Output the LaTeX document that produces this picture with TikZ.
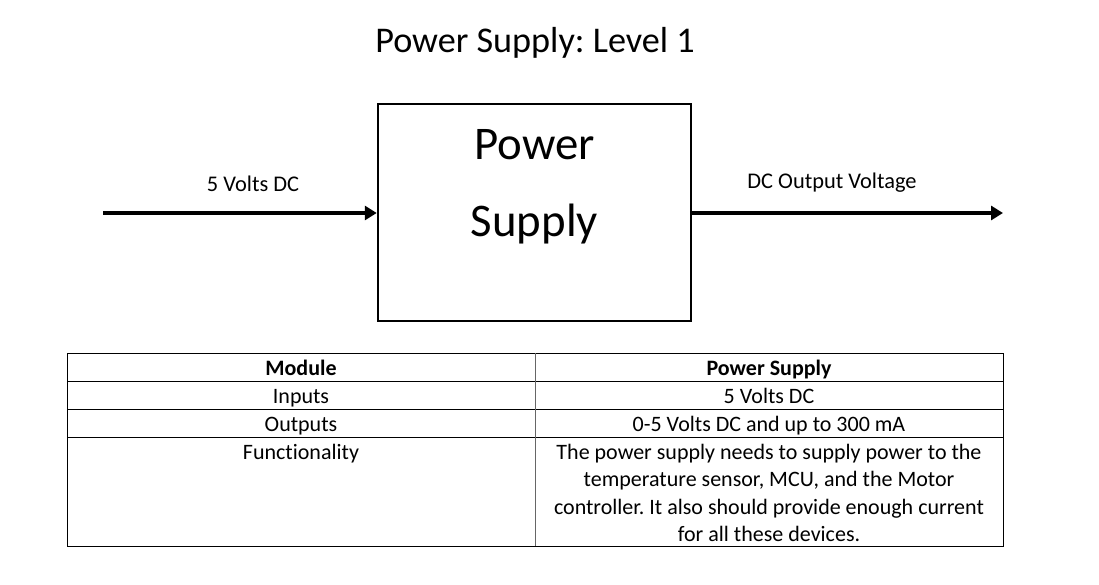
\documentclass[tikz,border=0pt]{standalone}
\usepackage{fontspec}
\setmainfont{Carlito}[Ligatures=NoCommon]
\usetikzlibrary{arrows.meta}
\frenchspacing
\tikzset{
  lbl/.style={inner sep=0pt, anchor=base, font=\fontsize{22.4}{26}\selectfont},
  celltxt/.style={inner sep=0pt, anchor=base, font=\fontsize{22}{27.3}\selectfont, align=center},
  boldcell/.style={celltxt, font=\bfseries\fontsize{22}{27.3}\selectfont},
  bigtxt/.style={inner sep=0pt, anchor=base, font=\fontsize{46.8}{50}\selectfont},
  arr/.style={line width=3.5pt, -{Triangle[length=12pt,width=14pt]}},
  grid/.style={line width=1pt, black},
}
\begin{document}
\begin{tikzpicture}[x=1pt,y=-1pt]
\useasboundingbox (0,0) rectangle (1099,585);
% title
\node[inner sep=0pt, anchor=base, font=\fontsize{36.2}{40}\selectfont] (title) at (535,53) {Power Supply: Level 1};
% block
\node[draw, line width=2.5pt, minimum width=313pt, minimum height=217pt, inner sep=0pt] (ps) at (534.5,212.5) {};
\node[bigtxt] (pw) at (534.5,159.5) {Power};
\node[bigtxt] (sp) at (534.5,236.5) {Supply};
% connectors
\coordinate (inS) at (103,213);
\coordinate (outE) at (1003,213);
\draw[arr] (inS) -- (ps.west |- inS);
\draw[arr] (ps.east |- outE) -- (outE);
\node[lbl] (inl) at (253,191.5) {5 Volts DC};
\node[lbl] (outl) at (832,188.5) {DC Output Voltage};
% table
\draw[grid] (67,353) rectangle (1003,546);
\draw[grid] (67,381) -- (1003,381);
\draw[grid] (67,409) -- (1003,409);
\draw[grid] (67,437) -- (1003,437);
\draw[line width=1pt, black!60] (535,353) -- (535,546);
\node[boldcell] (c11) at (301,375) {Module};
\node[boldcell] (c12) at (769,375) {Power Supply};
\node[celltxt] (c21) at (301,403) {Inputs};
\node[celltxt] (c22) at (769,403) {5 Volts DC};
\node[celltxt] (c31) at (301,431) {Outputs};
\node[celltxt] (c32) at (769,431) {0-5 Volts DC and up to 300 mA};
\node[celltxt] (c41) at (301,459) {Functionality};
\node[celltxt] (c42a) at (769,459) {The power supply needs to supply power to the};
\node[celltxt] (c42b) at (769,486.5) {temperature sensor, MCU, and the Motor};
\node[celltxt] (c42c) at (769,514) {controller. It also should provide enough current};
\node[celltxt] (c42d) at (769,541) {for all these devices.};
\end{tikzpicture}
\end{document}
